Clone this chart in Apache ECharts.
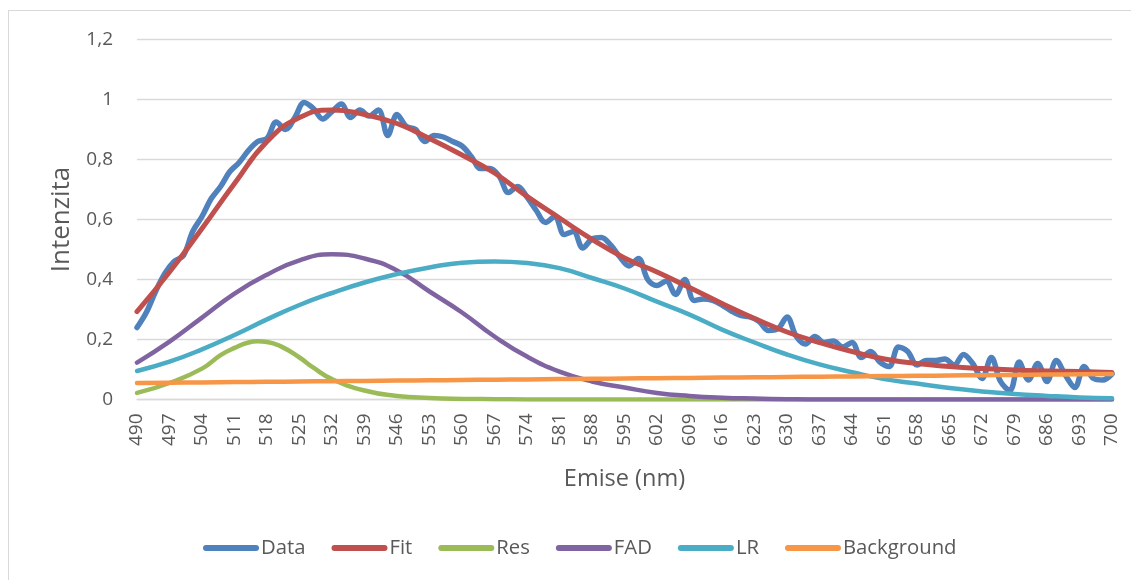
<!DOCTYPE html>
<html>
<head>
<meta charset="utf-8">
<script src="https://cdn.jsdelivr.net/npm/echarts@6/dist/echarts.min.js"></script>
<style>
html,body{margin:0;padding:0;background:#fff;overflow:hidden;}
#frame{position:absolute;left:8px;top:10px;width:1200px;height:700px;border:1px solid #d9d9d9;box-sizing:border-box;}
#chart{position:absolute;left:0;top:0;width:1131px;height:580px;}
</style>
</head>
<body>
<div id="frame"></div>
<div id="chart"></div>
<script>
// Wavelengths of the measured data (nm)
const dataNm = [490,492,494,496,498,500,502,504,506,508,510,512,514,516,518,520,522,524,526,528,530,532,534,536,538,540,542,544,546,548,550,552,554,556,558,560,562,564,566,568,570,572,574,576,578,580,582,584,586,588,590,592,594,596,598,600,602,604,606,608,610,612,614,616,618,620,622,624,626,628,630,632,634,636,638,640,642,644,646,648,650,652,654,656,658,660,662,664,666,668,670,672,674,676,678,680,682,684,686,688,690,692,694,696,698,700];
const dataVals = [0.24,0.29,0.36,0.42,0.46,0.48,0.56,0.61,0.67,0.71,0.76,0.79,0.83,0.86,0.87,0.925,0.90,0.94,0.99,0.97,0.935,0.96,0.985,0.94,0.965,0.945,0.965,0.88,0.95,0.91,0.90,0.86,0.88,0.875,0.86,0.845,0.81,0.77,0.77,0.745,0.69,0.71,0.675,0.63,0.59,0.61,0.55,0.56,0.505,0.535,0.54,0.515,0.475,0.445,0.47,0.40,0.38,0.395,0.35,0.40,0.33,0.335,0.33,0.315,0.295,0.28,0.275,0.26,0.23,0.235,0.275,0.21,0.185,0.21,0.19,0.195,0.175,0.19,0.14,0.16,0.125,0.11,0.175,0.16,0.115,0.13,0.13,0.135,0.115,0.15,0.12,0.07,0.14,0.06,0.03,0.125,0.065,0.12,0.06,0.13,0.08,0.04,0.11,0.07,0.065,0.085];

// Wavelengths of the fitted components (nm) — also the tick labels
const tickNm = [490,497,504,511,518,525,532,539,546,553,560,567,574,581,588,595,602,609,616,623,630,637,644,651,658,665,672,679,686,693,700];
const fitVals = [0.293,0.425,0.57,0.72,0.86,0.94,0.965,0.95,0.92,0.87,0.815,0.755,0.677,0.605,0.534,0.472,0.425,0.373,0.32,0.27,0.225,0.19,0.16,0.135,0.12,0.11,0.103,0.098,0.095,0.093,0.09];
const fadVals = [0.123,0.193,0.273,0.353,0.416,0.464,0.484,0.47,0.43,0.36,0.29,0.21,0.143,0.093,0.06,0.04,0.022,0.012,0.006,0.003,0.001,0,0,0,0,0,0,0,0,0,0];
const lrVals = [0.095,0.126,0.167,0.215,0.267,0.315,0.355,0.39,0.418,0.44,0.456,0.46,0.455,0.438,0.405,0.37,0.326,0.283,0.233,0.19,0.15,0.117,0.091,0.068,0.053,0.038,0.027,0.018,0.012,0.007,0.004];
const bgVals = [0.055,0.056,0.057,0.058,0.059,0.060,0.061,0.062,0.063,0.064,0.065,0.066,0.067,0.068,0.069,0.070,0.071,0.072,0.073,0.074,0.075,0.076,0.077,0.078,0.079,0.080,0.081,0.082,0.083,0.084,0.085];

// Res component, read at finer wavelengths around its narrow peak
const resNm = [490,497,504,508,511,514,516,518,521,525,528,532,539,546,553,560,567,574,588,602,616,630,644,658,672,686,700];
const resVals = [0.022,0.055,0.103,0.148,0.172,0.19,0.194,0.192,0.177,0.14,0.106,0.068,0.03,0.012,0.005,0.002,0.001,0,0,0,0,0,0,0,0,0,0];

const seriesNames = ['Data','Fit','Res','FAD','LR','Background'];
const colors = ['#4F81BD','#C0504D','#9BBB59','#8064A2','#4BACC6','#F79646'];

const pairs = (xs, ys) => xs.map((x, i) => [x, ys[i]]);
const FONT = '"Open Sans", "Noto Sans", sans-serif';
const TXT = '#595959';

const chart = echarts.init(document.getElementById('chart'), null, {renderer: 'canvas'});

function lineSeries(name, xs, ys, color, width, smooth) {
  return {
    name: name, type: 'line', data: pairs(xs, ys),
    showSymbol: false, symbol: 'none', smooth: smooth,
    lineStyle: {color: color, width: width, cap: 'round', join: 'round'},
    itemStyle: {color: color},
    emphasis: {disabled: true}, animation: false
  };
}

const capsule = 'path://M3,0 L53,0 A3,3 0 0 1 53,6 L3,6 A3,3 0 0 1 3,0 Z';

chart.setOption({
  animation: false,
  color: colors,
  textStyle: {fontFamily: FONT},
  grid: {left: 137, right: 19, top: 39.5, bottom: 180.5, containLabel: false},
  legend: {
    data: seriesNames.map(n => ({name: n, icon: capsule})),
    bottom: 17, left: 198,
    itemWidth: 56, itemHeight: 6, itemGap: 26,
    textStyle: {color: TXT, fontSize: 20.3, fontFamily: FONT, padding: [0, 0, 0, -3]}
  },
  xAxis: {
    type: 'value', min: 490, max: 700, interval: 7,
    name: 'Emise (nm)', nameLocation: 'middle', nameGap: 68,
    nameTextStyle: {color: TXT, fontSize: 23.5, fontFamily: FONT},
    axisLine: {show: true, lineStyle: {color: '#D9D9D9', width: 1.3}},
    axisTick: {show: false},
    splitLine: {show: false},
    axisLabel: {rotate: 90, color: TXT, fontSize: 19, fontFamily: FONT, margin: 14, hideOverlap: false,
      showMinLabel: true, showMaxLabel: true}
  },
  yAxis: {
    type: 'value', min: 0, max: 1.2, interval: 0.2,
    name: 'Intenzita', nameLocation: 'middle', nameGap: 62, nameRotate: 90,
    nameTextStyle: {color: TXT, fontSize: 26, fontFamily: FONT},
    axisLine: {show: false}, axisTick: {show: false},
    splitLine: {show: true, lineStyle: {color: '#D9D9D9', width: 1.3}},
    axisLabel: {color: TXT, fontSize: 19, fontFamily: FONT, margin: 24,
      formatter: v => String(Math.round(v * 10) / 10).replace('.', ',')}
  },
  series: [
    lineSeries('Data', dataNm, dataVals, colors[0], 5.5, 0.35),
    lineSeries('Fit', tickNm, fitVals, colors[1], 5, 0.5),
    lineSeries('Res', resNm, resVals, colors[2], 4.5, 0.5),
    lineSeries('FAD', tickNm, fadVals, colors[3], 4.5, 0.5),
    lineSeries('LR', tickNm, lrVals, colors[4], 4.5, 0.5),
    lineSeries('Background', tickNm, bgVals, colors[5], 4.5, 0.5)
  ]
});
</script>
</body>
</html>
